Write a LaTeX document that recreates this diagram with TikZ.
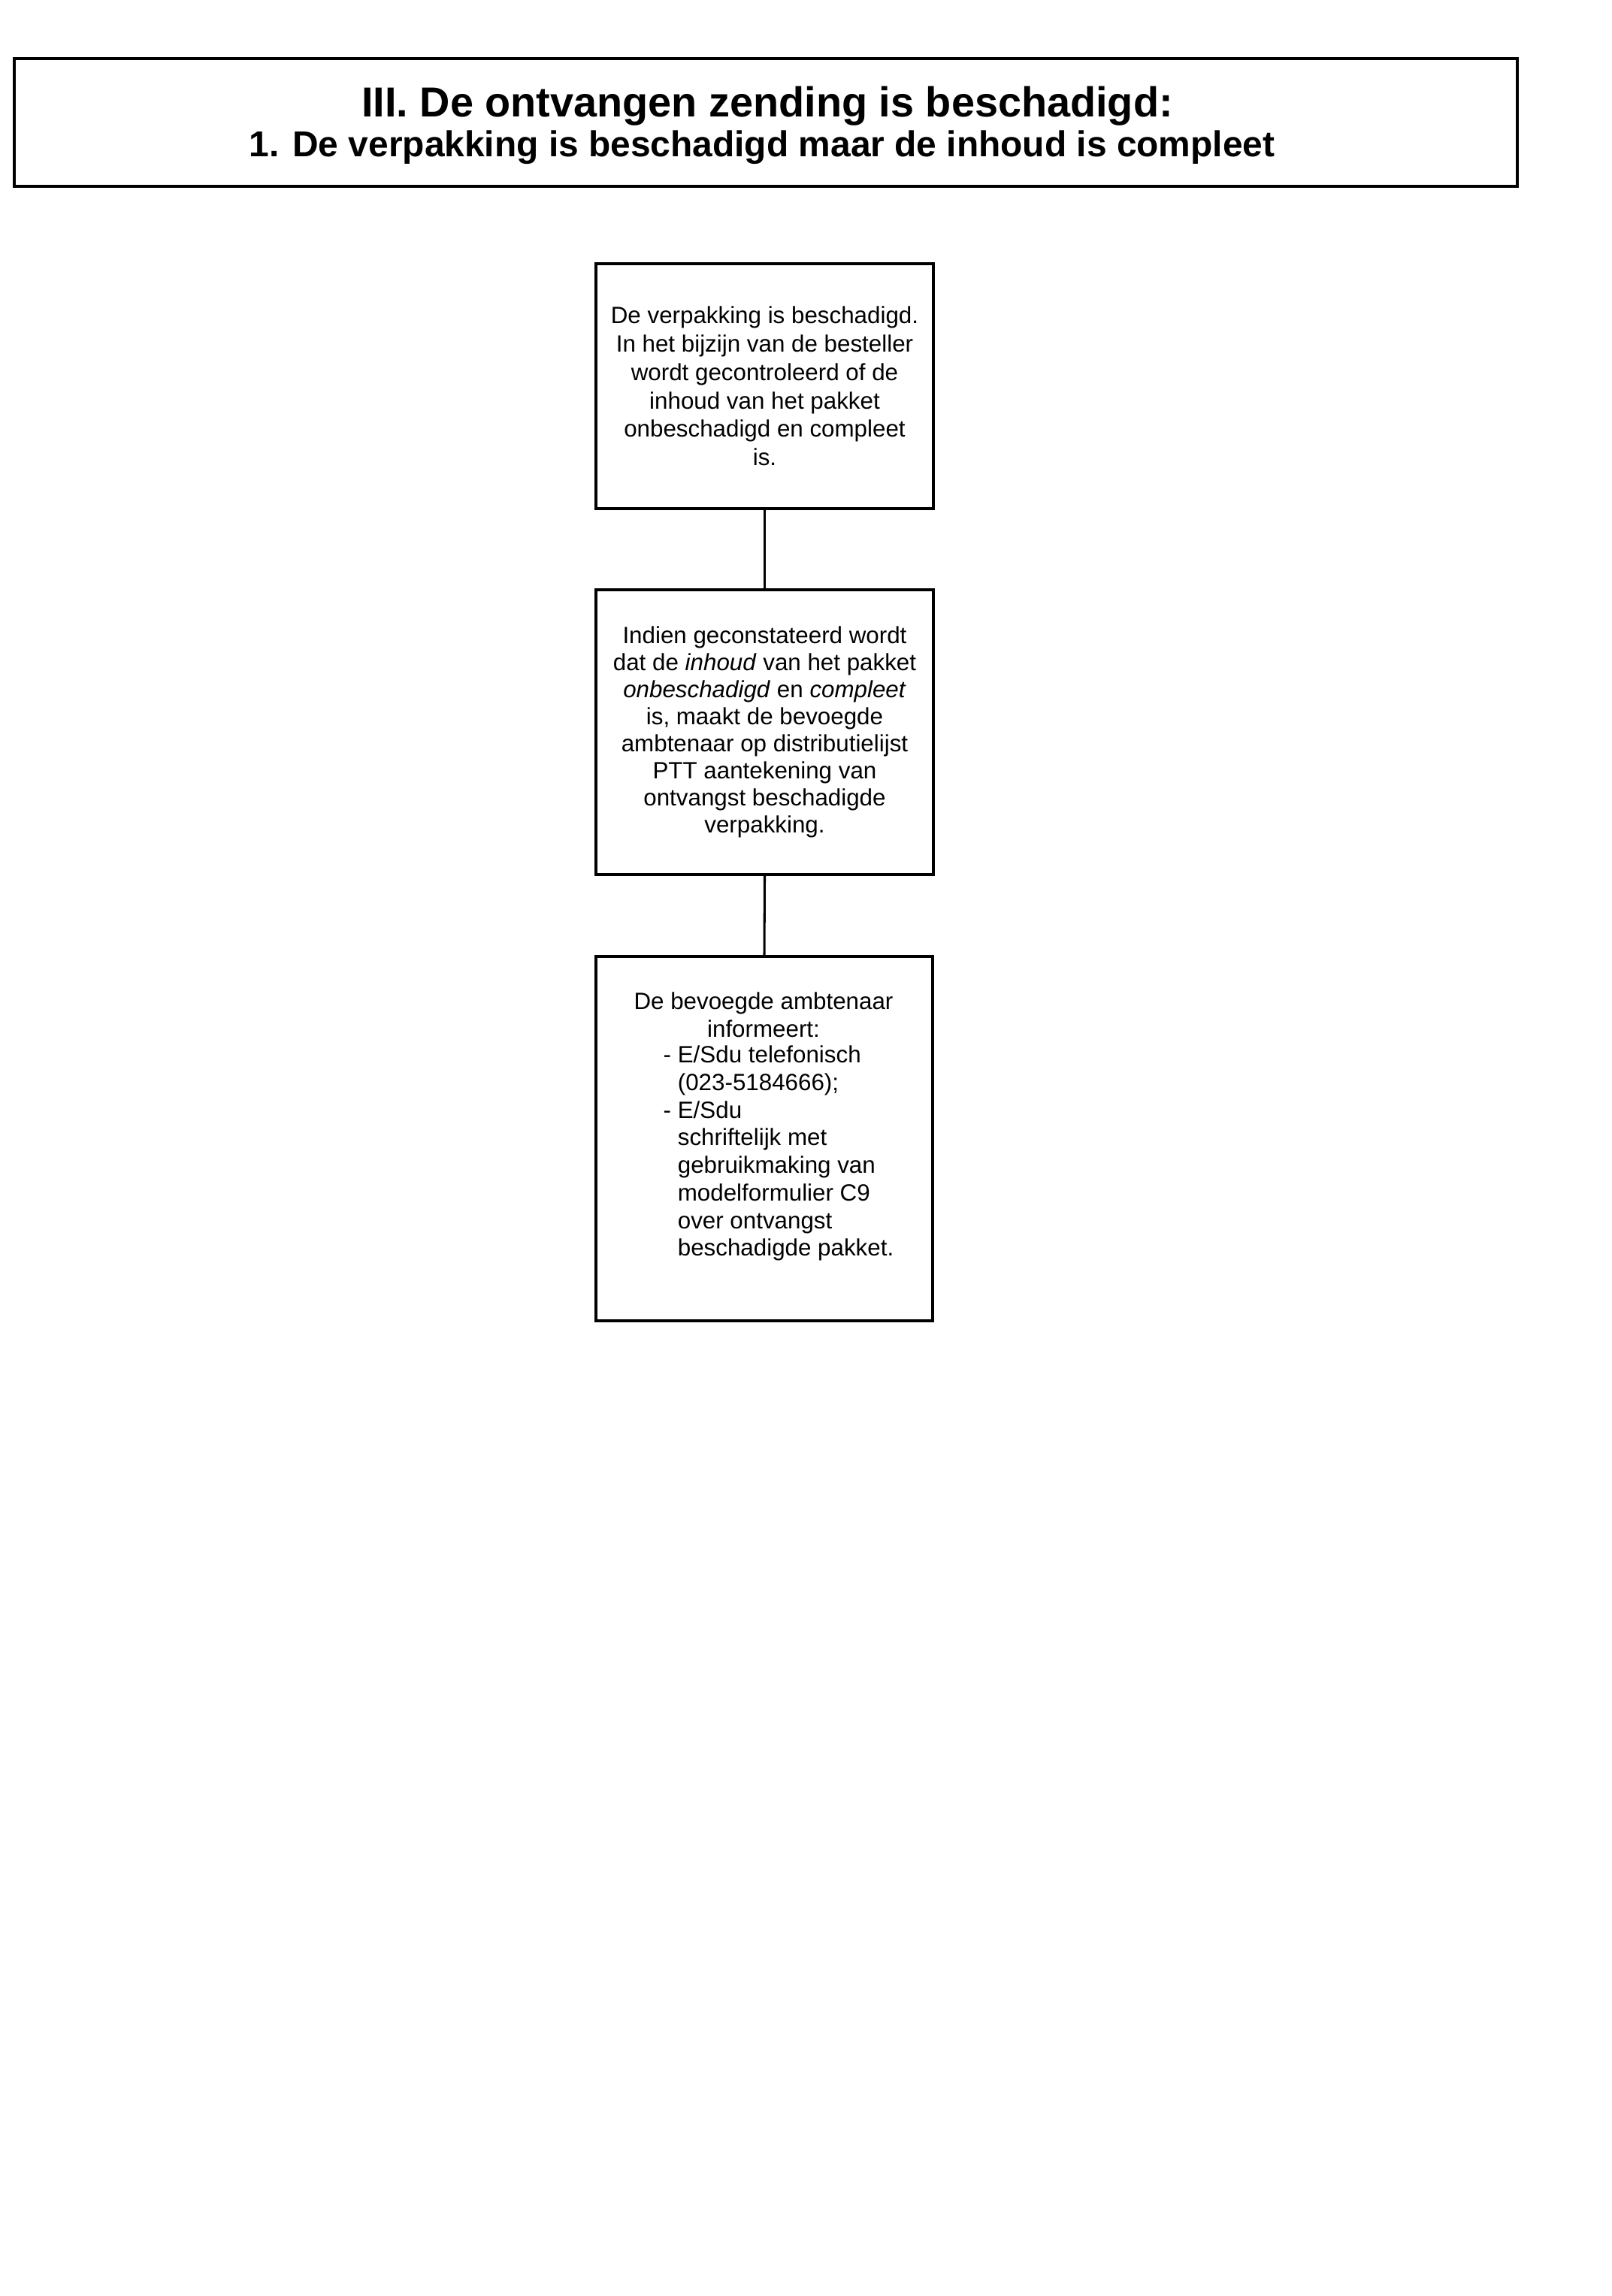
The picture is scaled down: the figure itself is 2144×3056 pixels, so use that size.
\documentclass[tikz,border=0pt]{standalone}
\usepackage{fontspec}
\setmainfont{Liberation Sans}
\newcommand\pxu{0.27766pt}
\begin{document}
\begin{tikzpicture}[x=0.27766pt,y=-0.27766pt,
  frame/.style={draw, line width=0.85pt, inner sep=0pt},
  boxtext/.style={align=center, inner sep=0pt},
  conn/.style={line width=0.85pt}]
\useasboundingbox (0,0) rectangle (2144,3056);
% title
\node[frame, minimum width=2000*\pxu, minimum height=170*\pxu] (title) at (1019,163) {};
\node[font=\bfseries\fontsize{15.5}{18}\selectfont, inner sep=0pt] (t1) at (1021,141) {III. De ontvangen zending is beschadigd:};
\node[font=\bfseries\fontsize{13.3}{16}\selectfont, inner sep=0pt] (t2) at (1014,196) {1. De verpakking is beschadigd maar de inhoud is compleet};
% box 1
\node[frame, boxtext, minimum width=449*\pxu, minimum height=326*\pxu, font=\fontsize{8.7}{10.5}\selectfont] (b1) at (1017.5,514)
 {De verpakking is beschadigd.\\ In het bijzijn van de besteller\\ wordt gecontroleerd of de\\ inhoud van het pakket\\ onbeschadigd en compleet\\ is.};
% box 2
\node[frame, boxtext, minimum width=449*\pxu, minimum height=379*\pxu, font=\fontsize{8.7}{10}\selectfont] (b2) at (1017.5,974.5)
 {Indien geconstateerd wordt\\ dat de \textit{inhoud} van het pakket\\ \textit{onbeschadigd} en \textit{compleet}\\ is, maakt de bevoegde\\ ambtenaar op distributielijst\\ PTT aantekening van\\ ontvangst beschadigde\\ verpakking.};
% box 3
\node[frame, minimum width=448*\pxu, minimum height=485*\pxu] (b3) at (1017,1515.5) {};
\node[boxtext, font=\fontsize{8.7}{10.2}\selectfont] (b3head) at (1016,1350.5) {De bevoegde ambtenaar\\ informeert:};
\node[inner sep=0pt, anchor=west, font=\fontsize{8.7}{10.2}\selectfont] (b3list) at (882,1536)
 {\begin{tabular}{@{}l@{\ }l@{}}
  - & E/Sdu telefonisch\\
    & (023-5184666);\\
  - & E/Sdu\\
    & schriftelijk met\\
    & gebruikmaking van\\
    & modelformulier C9\\
    & over ontvangst\\
    & beschadigde pakket.
  \end{tabular}};
% connectors
\draw[conn] (b1.south) -- (b2.north);
\draw[conn] (b2.south) -- (b3.north);
\end{tikzpicture}
\end{document}
